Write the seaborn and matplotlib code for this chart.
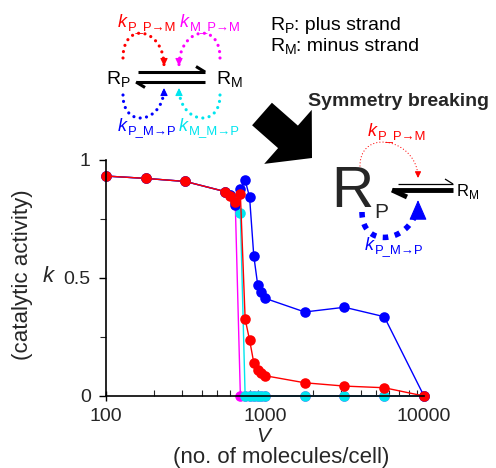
import matplotlib

matplotlib.use("Agg")
import matplotlib.pyplot as plt
import numpy as np
import pandas as pd
import seaborn as sns
from matplotlib.patches import FancyArrow
from matplotlib.ticker import NullFormatter

# volume V (molecules/cell) and catalytic activity k for the four rate constants
V = [100, 178, 316, 562, 600, 650, 700, 750, 800, 850, 900, 950, 1000, 1778, 3162, 5623, 10000]
k_P_PM = [0.932, 0.922, 0.909, 0.866, 0.848, 0.823, 0.857, 0.326, 0.237, 0.141,
          0.110, 0.096, 0.086, 0.056, 0.042, 0.035, 0.0]
k_P_MP = [0.932, 0.922, 0.909, 0.866, 0.850, 0.810, 0.876, 0.915, 0.842, 0.594,
          0.470, 0.442, 0.414, 0.356, 0.376, 0.336, 0.0]
k_M_PM = [0.932, 0.922, 0.909, 0.866, 0.850, 0.820, 0.0, 0.0, 0.0, 0.0,
          0.0, 0.0, 0.0, 0.0, 0.0, 0.0, 0.0]
k_M_MP = [0.932, 0.922, 0.909, 0.866, 0.850, 0.820, 0.774, 0.0, 0.0, 0.0,
          0.0, 0.0, 0.0, 0.0, 0.0, 0.0, 0.0]

series = ["M_P->M", "M_M->P", "P_M->P", "P_P->M"]  # draw order, last on top
colors = {"M_P->M": "#ff00ff", "M_M->P": "#00e5ee", "P_M->P": "#0000ff", "P_P->M": "#ff0000"}
values = {"M_P->M": k_M_PM, "M_M->P": k_M_MP, "P_M->P": k_P_MP, "P_P->M": k_P_PM}

df = pd.concat(
    [pd.DataFrame({"V": V, "k": values[s], "series": s}) for s in series],
    ignore_index=True,
)

sns.set_style("ticks")
plt.rcParams["font.family"] = ["Liberation Sans", "DejaVu Sans"]

W, H = 496, 468
fig = plt.figure(figsize=(W / 100, H / 100), dpi=100)
ax = fig.add_axes([106 / W, 1 - 396 / H, (424 - 106) / W, (396 - 160) / H])

sns.lineplot(
    data=df, x="V", y="k", hue="series", hue_order=series, palette=colors,
    estimator=None, sort=False, marker="o", markersize=7.6, markeredgewidth=0,
    linewidth=1.0, clip_on=False, legend=False, ax=ax,
)
ax.set_xscale("log")
ax.set_xlim(100, 10000)
ax.set_ylim(0, 1)
ax.set_xticks([100, 1000, 10000], ["100", "1000", "10000"])
ax.set_xticks([a * b for b in (100, 1000) for a in range(2, 10)], minor=True)
ax.xaxis.set_minor_formatter(NullFormatter())
ax.set_yticks([0, 0.5, 1], ["0", "0.5", "1"])
ax.set_yticks([0.25, 0.75], minor=True)
ax.tick_params(axis="both", labelsize=14, color="black", width=1)
ax.tick_params(axis="x", which="major", direction="inout", length=7, pad=5)
ax.tick_params(axis="x", which="minor", direction="in", length=4, width=0.8)
ax.tick_params(axis="y", which="major", direction="out", length=5, pad=6)
ax.tick_params(axis="y", which="minor", direction="out", length=4, width=0.8)
ax.set_xlabel("")
ax.set_ylabel("")
for side in ("top", "right"):
    ax.spines[side].set_visible(False)
for side in ("left", "bottom"):
    ax.spines[side].set_linewidth(1.2)
    ax.spines[side].set_color("black")

# overlay in pixel coordinates for the schematic and labels
ov = fig.add_axes([0, 0, 1, 1])
ov.set_xlim(0, W)
ov.set_ylim(H, 0)
ov.axis("off")
ov.patch.set_alpha(0)

ov.text(23, 275, "(catalytic activity)", rotation=90, fontsize=16, ha="center", va="center")
ov.text(48, 277, "k", style="italic", fontsize=16, ha="center", va="center")
ov.text(263, 437, "V", style="italic", fontsize=15, ha="center", va="center")
ov.text(281, 457, "(no. of molecules/cell)", fontsize=16, ha="center", va="center")


def arc(p0, p1, h, color, lw, dash, cap="round", head=(0.45, 0.22), scale=10, stop=1.0):
    t = np.linspace(0, stop, 80)[:, None]
    c0 = np.array(p0, float)
    c3 = np.array(p1, float)
    c1 = c0 + [0, h]
    c2 = c3 + [0, h]
    pts = (1 - t) ** 3 * c0 + 3 * (1 - t) ** 2 * t * c1 + 3 * (1 - t) * t ** 2 * c2 + t ** 3 * c3
    ov.plot(pts[:, 0], pts[:, 1], color=color, lw=lw, ls=(0, dash),
            dash_capstyle=cap)
    ov.annotate(
        "", xy=p1, xytext=(p1[0], p1[1] + 0.12 * h),
        arrowprops=dict(arrowstyle=f"-|>,head_length={head[0]},head_width={head[1]}",
                        color=color, lw=0.8, shrinkA=0, shrinkB=0,
                        mutation_scale=scale),
    )


def sublabel(x, y, main, sub, size, color="black", italic=False, gap=0.3, rest=None):
    t = ov.text(x, y, main, style="italic" if italic else "normal", color=color,
                fontsize=size, ha="left", va="baseline")
    s = ov.annotate(sub, xy=(1, y), xycoords=(t, "data"), xytext=(gap, -2.2),
                    textcoords="offset points", color=color, fontsize=size * 0.72,
                    ha="left", va="baseline")
    if rest:
        ov.annotate(rest, xy=(1, y), xycoords=(s, "data"), xytext=(0.2, 0),
                    textcoords="offset points", color=color, fontsize=size,
                    ha="left", va="baseline")
    return t


# left schematic
sublabel(106, 84, "R", "P", 14)
sublabel(216, 84, "R", "M", 14)
ov.plot([138, 205], [72, 72], color="k", lw=2.2, solid_capstyle="butt")
ov.plot([205, 196], [72, 66.5], color="k", lw=2.2, solid_capstyle="butt")
ov.plot([136, 205], [82, 82], color="k", lw=2.2, solid_capstyle="butt")
ov.plot([136, 145], [82, 87.5], color="k", lw=2.2, solid_capstyle="butt")

arc((123, 58), (164, 66), -38, "#ff0000", 2.3, (0.01, 2.0))
arc((220, 58), (179, 66), -38, "#ff00ff", 2.3, (0.01, 2.0))
arc((123, 95), (164, 88), 35, "#0000ff", 2.3, (0.01, 2.0))
arc((220, 95), (179, 88), 35, "#00e5ee", 2.3, (0.01, 2.0))
sublabel(118, 27, "k", "P_P\u2192M", 13, "#ff0000", True, 0.5)
sublabel(180, 27, "k", "M_P\u2192M", 13, "#ff00ff", True, 0.5)
sublabel(118, 131, "k", "P_M\u2192P", 13, "#0000ff", True, 0.5)
sublabel(179, 131, "k", "M_M\u2192P", 13, "#00e5ee", True, 0.5)

sublabel(270, 30, "R", "P", 14, rest=": plus strand")
sublabel(270, 51, "R", "M", 14, rest=": minus strand")
ov.text(308, 106, "Symmetry breaking", fontsize=14, fontweight="bold", ha="left", va="baseline")

ov.add_patch(FancyArrow(262, 114, 50, 44, width=30, head_width=72, head_length=32,
                        length_includes_head=True, color="black", lw=0))

# right schematic
ov.text(331, 207, "R", fontsize=42, ha="left", va="baseline")
ov.text(374, 218, "P", fontsize=15, ha="left", va="baseline")
sublabel(457, 196, "R", "M", 12)
ov.plot([398, 453], [184, 184], color="k", lw=0.9, solid_capstyle="butt")
ov.plot([453, 445], [184, 179], color="k", lw=0.9, solid_capstyle="butt")
ov.plot([392, 453], [190, 190], color="k", lw=3.5, solid_capstyle="butt")
ov.plot([392, 407], [190, 197], color="k", lw=3.5, solid_capstyle="butt")

arc((360, 166), (418, 178), -39, "#ff0000", 0.9, (0.01, 2.5), head=(0.4, 0.2), scale=9)
arc((362, 212), (418, 200), 41, "#0000ff", 4.0, (1.0, 1.2), cap="butt",
    head=(0.8, 0.35), scale=16, stop=0.88)
sublabel(368, 136, "k", "P_P\u2192M", 13, "#ff0000", True, 0.5)
sublabel(365, 250, "k", "P_M\u2192P", 13, "#0000ff", True, 0.5)

fig.savefig("out.png", dpi=100)
plt.close(fig)
